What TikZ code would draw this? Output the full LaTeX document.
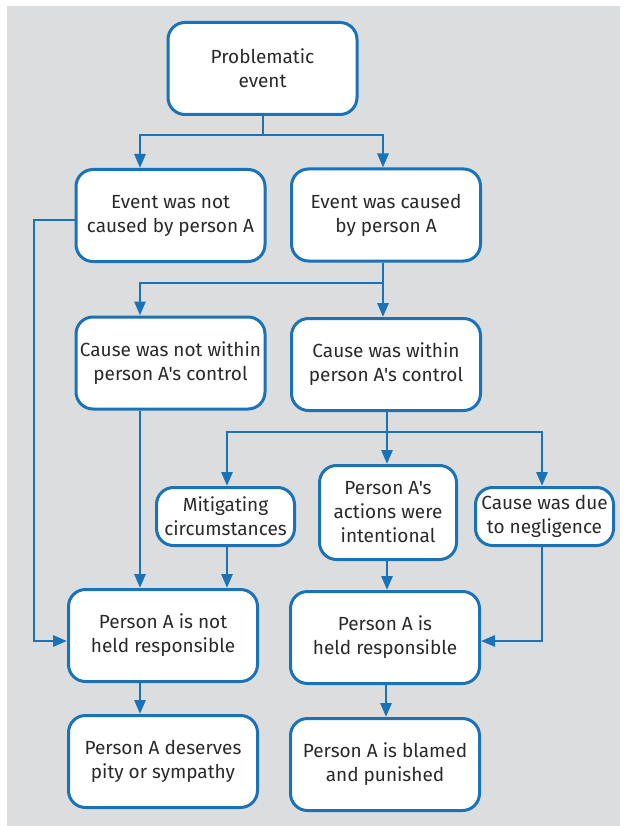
\documentclass[tikz,border=0pt]{standalone}
\usepackage{fontspec}
\setmainfont{Fira Sans}[Ligatures=TeXOff]
\usetikzlibrary{arrows.meta}
\definecolor{bgray}{HTML}{DCDDDF}
\definecolor{bblue}{HTML}{1A73B9}
\definecolor{tgray}{HTML}{2B2A29}
\tikzset{
  box/.style={draw=bblue, line width=3pt, fill=white, rounded corners=17pt,
    inner sep=0pt, align=center, text=tgray,
    font=\fontsize{19}{24}\selectfont},
  bigbox/.style={box, minimum width=189pt, minimum height=92pt},
  smallbox/.style={box, minimum width=138pt, minimum height=58pt},
  conn/.style={draw=bblue, line width=2.8pt},
  arr/.style={conn, -{Triangle[length=14pt,width=11pt]}},
}
\begin{document}
\begin{tikzpicture}[x=1pt,y=-1pt]
\useasboundingbox (0,0) rectangle (623,826);
\fill[bgray] (7,6) rectangle (620,826);

\node[bigbox] (prob) at (262.5,68.5) {Problematic\\event};
\node[bigbox] (notcaused) at (170.5,215.5) {Event was not\\caused by person A};
\node[bigbox] (caused) at (386,215) {Event was caused\\by person A};
\node[bigbox] (notwithin) at (170.5,363) {Cause was not within\\person A's control};
\node[bigbox] (within) at (386,364.5) {Cause was within\\person A's control};
\node[smallbox] (mitig) at (225.5,516.5) {Mitigating\\circumstances};
\node[box, minimum width=137pt, minimum height=94pt] (intent) at (388,512.5) {Person A's\\actions were\\intentional};
\node[smallbox] (neglig) at (544.5,516.5) {Cause was due\\to negligence};
\node[bigbox] (notheld) at (163,635.5) {Person A is not\\held responsible};
\node[bigbox] (held) at (385,637.5) {Person A is\\held responsible};
\node[bigbox] (pity) at (163,761.5) {Person A deserves\\pity or sympathy};
\node[bigbox] (blamed) at (385,764.5) {Person A is blamed\\and punished};

% column and junction coordinates
\coordinate (xA) at (140,0);
\coordinate (xB) at (383,0);
\coordinate (xC) at (227,0);
\coordinate (xD) at (387,0);
\coordinate (xE) at (542,0);
\coordinate (xL) at (34,0);
\coordinate (xH) at (386,0);
\coordinate (j1) at (263,135);
\coordinate (j2) at (383,283);
\coordinate (j3) at (387,432);
\coordinate (yR) at (0,641);
\coordinate (yL) at (0,220);

% from Problematic event
\draw[conn] (prob.south -| j1) -- (j1);
\draw[arr] (j1) -| (notcaused.north -| xA);
\draw[arr] (j1) -| (caused.north -| xB);

% from Event was caused
\draw[arr] (caused.south -| xB) -- (within.north -| xB);
\draw[arr] (j2) -| (notwithin.north -| xA);

% from Event was not caused
\draw[arr] (notcaused.west |- yL) -| (xL |- yR) -- (notheld.west |- yR);

% from Cause was not within
\draw[arr] (notwithin.south -| xA) -- (notheld.north -| xA);

% from Cause was within
\draw[conn] (within.south -| xD) -- (j3);
\draw[arr] (j3) -| (mitig.north -| xC);
\draw[arr] (j3) -- (intent.north -| xD);
\draw[arr] (j3) -| (neglig.north -| xE);

% to responsibility
\draw[arr] (mitig.south -| xC) -- (notheld.north -| xC);
\draw[arr] (intent.south -| xD) -- (held.north -| xD);
\draw[arr] (neglig.south -| xE) |- (held.east |- yR);

% outcomes
\draw[arr] (notheld.south -| xA) -- (pity.north -| xA);
\draw[arr] (held.south -| xH) -- (blamed.north -| xH);
\end{tikzpicture}
\end{document}
